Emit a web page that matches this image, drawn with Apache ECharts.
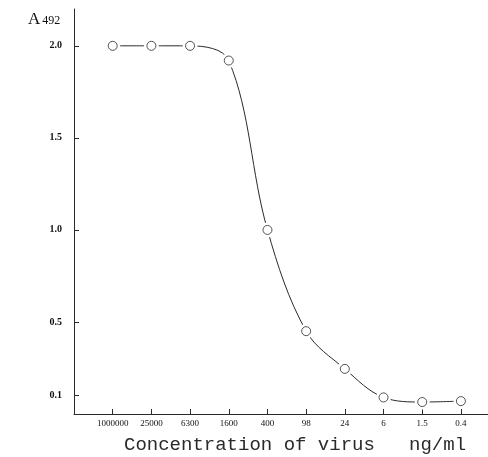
<!DOCTYPE html>
<html>
<head>
<meta charset="utf-8">
<script src="https://cdn.jsdelivr.net/npm/echarts@6/dist/echarts.min.js"></script>
<style>
  html, body { margin: 0; padding: 0; background: #fff; }
  #chart { width: 488px; height: 457px; }
</style>
</head>
<body>
<div id="chart"></div>
<script>
// Virus concentration (ng/ml), in dilution order
const concentrations = ['1000000', '25000', '6300', '1600', '400', '98', '24', '6', '1.5', '0.4'];
// Absorbance at 492 nm for each dilution
const absorbance = [2.0, 2.0, 2.0, 1.92, 1.0, 0.45, 0.245, 0.09, 0.065, 0.07];
// Labelled ticks on the absorbance axis
const yTickValues = [0.1, 0.5, 1.0, 1.5, 2.0];
const xTickValues = [0, 1, 2, 3, 4, 5, 6, 7, 8, 9];

const points = absorbance.map((v, i) => [i, v]);
const ink = '#2a2a2a';
const labelInk = '#111';

const chart = echarts.init(document.getElementById('chart'), null, { renderer: 'canvas' });
chart.setOption({
  backgroundColor: '#fff',
  animation: false,
  title: [
    {
      text: 'A{s|492}',
      left: 23,
      top: 6,
      textStyle: {
        fontFamily: 'Liberation Serif',
        fontSize: 17,
        fontWeight: 'normal',
        color: labelInk,
        rich: { s: { fontFamily: 'Liberation Serif', fontSize: 12, color: labelInk, padding: [3, 0, 0, 2] } }
      }
    },
    {
      text: 'Concentration of virus   ng/ml',
      left: 119,
      top: 430,
      textStyle: { fontFamily: 'Liberation Mono', fontSize: 19, fontWeight: 'normal', color: ink }
    }
  ],
  grid: { left: 74, top: 9, width: 414, bottom: 43, containLabel: false },
  xAxis: {
    type: 'value',
    min: -1,
    max: 9.7,
    interval: 1,
    splitLine: { show: false },
    axisLine: { show: true, onZero: false, lineStyle: { color: ink, width: 1 } },
    axisTick: { show: true, inside: true, length: 5, customValues: xTickValues, lineStyle: { color: ink } },
    axisLabel: {
      customValues: xTickValues,
      formatter: v => concentrations[Math.round(v)] ?? '',
      fontFamily: 'Liberation Serif',
      fontSize: 9,
      color: labelInk,
      margin: 5
    }
  },
  yAxis: {
    type: 'value',
    min: 0,
    max: 2.2,
    splitLine: { show: false },
    axisLine: { show: true, onZero: false, lineStyle: { color: ink, width: 1 } },
    axisTick: { show: true, inside: true, length: 5, customValues: yTickValues, lineStyle: { color: ink } },
    axisLabel: {
      customValues: yTickValues,
      formatter: v => v.toFixed(1),
      fontFamily: 'Liberation Serif',
      fontSize: 10,
      fontWeight: 'bold',
      color: labelInk,
      margin: 12
    }
  },
  series: [
    {
      // fitted curve; the white discs open a small gap round each point
      type: 'line',
      data: points,
      smooth: 0.35,
      symbol: 'circle',
      symbolSize: 15,
      itemStyle: { color: '#fff', borderWidth: 0 },
      lineStyle: { color: ink, width: 1 },
      z: 2
    },
    {
      type: 'scatter',
      data: points,
      symbol: 'circle',
      symbolSize: 9,
      itemStyle: { color: '#fff', borderColor: ink, borderWidth: 1 },
      z: 3
    }
  ]
});
</script>
</body>
</html>
